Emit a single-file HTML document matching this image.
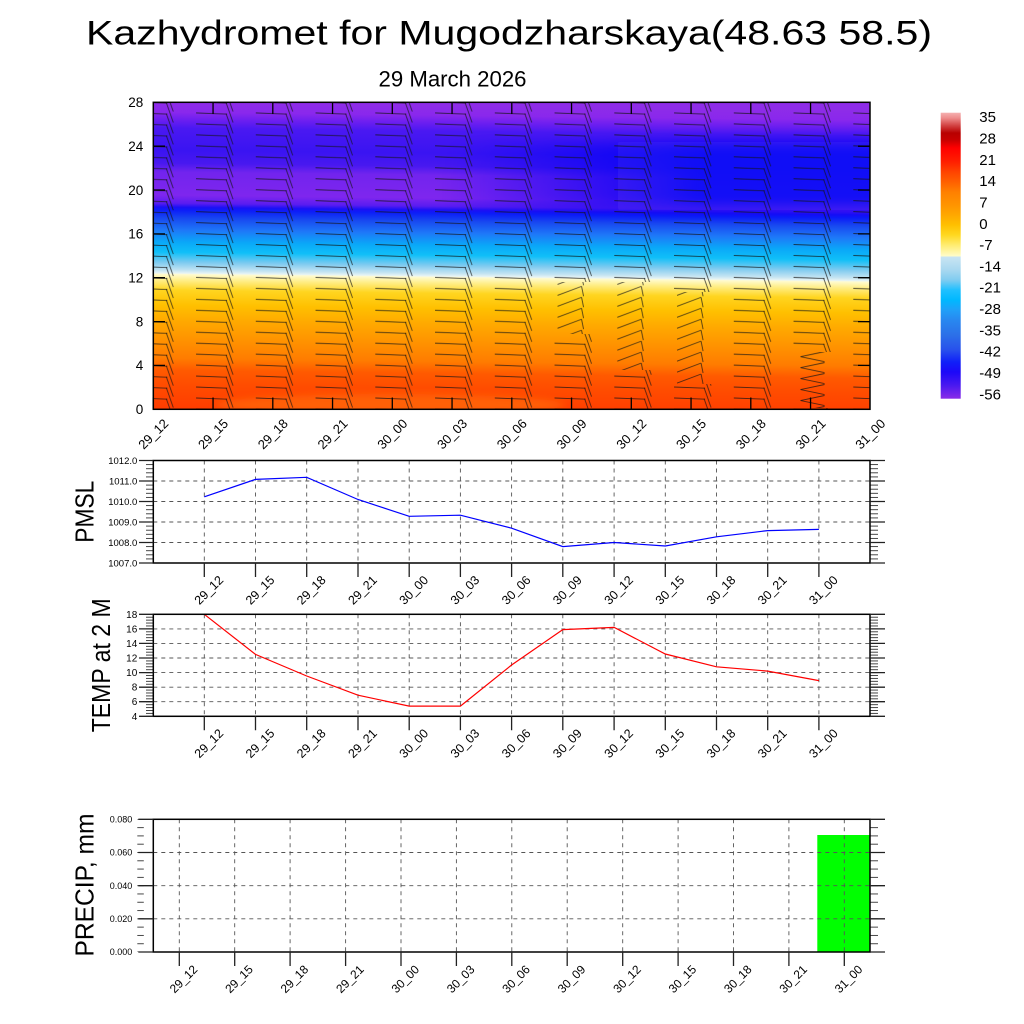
<!DOCTYPE html>
<html><head><meta charset="utf-8">
<style>
html,body{margin:0;padding:0;background:#fff}
svg{display:block}
text{font-family:"Liberation Sans",Arial,sans-serif;fill:#000}
</style></head>
<body>
<svg width="1024" height="1024" viewBox="0 0 1024 1024" xmlns="http://www.w3.org/2000/svg">
<defs>
 <linearGradient id="gF" gradientUnits="userSpaceOnUse" x1="0" y1="102.3" x2="0" y2="409.3" gradientTransform="translate(0,-1.7) skewY(0.64)">
  <stop offset="0" stop-color="#8e2ce8"/>
  <stop offset="0.0316" stop-color="#8a28ec"/>
  <stop offset="0.0577" stop-color="#6a1ef0"/>
  <stop offset="0.0837" stop-color="#4a18f2"/>
  <stop offset="0.1554" stop-color="#3a14f2"/>
  <stop offset="0.1977" stop-color="#4818f0"/>
  <stop offset="0.2270" stop-color="#7224ee"/>
  <stop offset="0.3020" stop-color="#7e26ee"/>
  <stop offset="0.3280" stop-color="#5a1cf0"/>
  <stop offset="0.3410" stop-color="#1a10f5"/>
  <stop offset="0.3508" stop-color="#0c1ef8"/>
  <stop offset="0.3769" stop-color="#1848f0"/>
  <stop offset="0.4160" stop-color="#1e78f8"/>
  <stop offset="0.4550" stop-color="#0aa8f8"/>
  <stop offset="0.4876" stop-color="#10bff8"/>
  <stop offset="0.5202" stop-color="#7ccaf0"/>
  <stop offset="0.5463" stop-color="#c4e4f2"/>
  <stop offset="0.5560" stop-color="#e8f4f4"/>
  <stop offset="0.5593" stop-color="#fffbd0"/>
  <stop offset="0.5788" stop-color="#ffee88"/>
  <stop offset="0.6114" stop-color="#ffd520"/>
  <stop offset="0.6603" stop-color="#ffc000"/>
  <stop offset="0.7091" stop-color="#ffaa00"/>
  <stop offset="0.7743" stop-color="#ff9200"/>
  <stop offset="0.8329" stop-color="#ff7c00"/>
  <stop offset="0.8720" stop-color="#ff5a00"/>
  <stop offset="0.9208" stop-color="#ff4c00"/>
  <stop offset="1" stop-color="#ff3c00"/>
 </linearGradient>
 <linearGradient id="gC" gradientUnits="userSpaceOnUse" x1="0" y1="112.7" x2="0" y2="398.7">
  <stop offset="0" stop-color="#f5b0b0"/>
  <stop offset="0.0185" stop-color="#ee8c8c"/>
  <stop offset="0.043" stop-color="#d44848"/>
  <stop offset="0.071" stop-color="#b80000"/>
  <stop offset="0.0955" stop-color="#c80000"/>
  <stop offset="0.1234" stop-color="#ff0000"/>
  <stop offset="0.1724" stop-color="#ff2000"/>
  <stop offset="0.2073" stop-color="#ff4400"/>
  <stop offset="0.2423" stop-color="#ff6000"/>
  <stop offset="0.2773" stop-color="#ff8000"/>
  <stop offset="0.3227" stop-color="#ff9400"/>
  <stop offset="0.3577" stop-color="#ffa800"/>
  <stop offset="0.3927" stop-color="#ffc000"/>
  <stop offset="0.4276" stop-color="#ffd820"/>
  <stop offset="0.4626" stop-color="#ffec70"/>
  <stop offset="0.5010" stop-color="#fffcc8"/>
  <stop offset="0.5045" stop-color="#c8e4f2"/>
  <stop offset="0.55" stop-color="#a8d8f0"/>
  <stop offset="0.585" stop-color="#80ccf0"/>
  <stop offset="0.6199" stop-color="#20c0ff"/>
  <stop offset="0.6549" stop-color="#00b8ff"/>
  <stop offset="0.6899" stop-color="#20a0f8"/>
  <stop offset="0.7249" stop-color="#2888f0"/>
  <stop offset="0.7773" stop-color="#2c70e8"/>
  <stop offset="0.8298" stop-color="#2850ec"/>
  <stop offset="0.8717" stop-color="#1020f8"/>
  <stop offset="0.9066" stop-color="#1c08f8"/>
  <stop offset="0.9521" stop-color="#4818f0"/>
  <stop offset="1" stop-color="#8a2ce8"/>
 </linearGradient>
 <linearGradient id="gB" gradientUnits="userSpaceOnUse" x1="440" y1="0" x2="700" y2="0">
  <stop offset="0" stop-color="#0a0af6" stop-opacity="0"/>
  <stop offset="1" stop-color="#0a0af6" stop-opacity="0.95"/>
 </linearGradient>
 <filter id="bl5" x="-30%" y="-60%" width="160%" height="220%"><feGaussianBlur stdDeviation="7"/></filter>
 <filter id="bl4" x="-30%" y="-100%" width="160%" height="300%"><feGaussianBlur stdDeviation="4"/></filter>
 <clipPath id="cpF"><rect x="153.3" y="102.3" width="716.7" height="307"/></clipPath>

 <pattern id="pA" patternUnits="userSpaceOnUse" x="133.3" y="395" width="59.75" height="10.964">
  <g stroke="#151515" stroke-width="0.9" fill="none" stroke-opacity="0.75">
   <line x1="3" y1="3" x2="34" y2="4.2"/>
   <line x1="33" y1="3.6" x2="35.6" y2="10.964"/>
   <line x1="35.6" y1="0" x2="39.4" y2="10.964"/>
   <line x1="39.4" y1="0" x2="40" y2="1.6"/>
  </g>
 </pattern>
 <pattern id="pB" patternUnits="userSpaceOnUse" x="133.3" y="395" width="59.75" height="10.964">
  <g stroke="#151515" stroke-width="0.9" fill="none" stroke-opacity="0.75">
   <line x1="6" y1="10" x2="30" y2="1"/>
   <line x1="30" y1="1" x2="32" y2="10.9"/>
  </g>
 </pattern>
 <pattern id="pC" patternUnits="userSpaceOnUse" x="133.3" y="395" width="59.75" height="10.964">
  <g stroke="#151515" stroke-width="0.9" fill="none" stroke-opacity="0.75">
   <line x1="10" y1="5.5" x2="34" y2="0.5"/>
   <line x1="10" y1="5.5" x2="34" y2="10.5"/>
  </g>
 </pattern>
 <mask id="mA" maskUnits="userSpaceOnUse" x="0" y="0" width="1024" height="1024">
  <rect x="0" y="0" width="1024" height="1024" fill="#fff"/>
  <rect x="551" y="282" width="44" height="52" fill="#000"/>
  <rect x="611" y="282" width="44" height="88" fill="#000"/>
  <rect x="671" y="292" width="44" height="92" fill="#000"/>
  <rect x="790" y="352" width="44" height="56" fill="#000"/>
 </mask>

 <pattern id="mtP" patternUnits="userSpaceOnUse" x="0" y="460.05" width="30" height="4.1">
  <rect x="0" y="0" width="30" height="0.9" fill="#333"/>
 </pattern>
 <pattern id="mtT" patternUnits="userSpaceOnUse" x="0" y="613.85" width="30" height="2.914">
  <rect x="0" y="0" width="30" height="0.9" fill="#333"/>
 </pattern>
 <pattern id="mtR" patternUnits="userSpaceOnUse" x="0" y="818.85" width="30" height="8.294">
  <rect x="0" y="0" width="30" height="0.9" fill="#333"/>
 </pattern>
</defs>

<rect x="0" y="0" width="1024" height="1024" fill="#fff"/>

<text x="86" y="44.3" font-size="34" textLength="846" lengthAdjust="spacingAndGlyphs">Kazhydromet for Mugodzharskaya(48.63 58.5)</text>
<text x="378.5" y="86.7" font-size="22" textLength="148" lengthAdjust="spacingAndGlyphs">29 March 2026</text>

<!-- ============ CONTOUR PANEL ============ -->
<g clip-path="url(#cpF)">
 <rect x="153.3" y="102.3" width="716.7" height="307" fill="url(#gF)"/>
 <rect x="440" y="142" width="460" height="68" fill="url(#gB)" filter="url(#bl5)"/>
 <ellipse cx="390" cy="405" rx="175" ry="11" fill="#ff7a10" opacity="0.55" filter="url(#bl4)"/>
 <rect x="150" y="100" width="725" height="312" fill="url(#pA)" mask="url(#mA)"/>
 <rect x="551" y="282" width="44" height="52" fill="url(#pB)"/>
 <rect x="611" y="282" width="44" height="88" fill="url(#pB)"/>
 <rect x="671" y="292" width="44" height="92" fill="url(#pB)"/>
 <rect x="790" y="352" width="44" height="56" fill="url(#pC)"/>
</g>
<rect x="153.3" y="102.3" width="716.7" height="307" fill="none" stroke="#000" stroke-width="1.5"/>
<path stroke="#000" stroke-width="1.3" fill="none" d="
M153.3 409.3V397.5 M213.05 409.3V397.5 M272.8 409.3V397.5 M332.55 409.3V397.5 M392.3 409.3V397.5 M452.05 409.3V397.5 M511.8 409.3V397.5 M571.55 409.3V397.5 M631.3 409.3V397.5 M691.05 409.3V397.5 M750.8 409.3V397.5 M810.55 409.3V397.5
M213.05 102.3V114 M272.8 102.3V114 M332.55 102.3V114 M392.3 102.3V114 M452.05 102.3V114 M511.8 102.3V114 M571.55 102.3V114 M631.3 102.3V114 M691.05 102.3V114 M750.8 102.3V114 M810.55 102.3V114
M153.3 365.4H165 M153.3 321.6H165 M153.3 277.7H165 M153.3 233.9H165 M153.3 190H165 M153.3 146.2H165
M870 365.4H858 M870 321.6H858 M870 277.7H858 M870 233.9H858 M870 190H858 M870 146.2H858"/>
<g font-size="13.5" text-anchor="end">
 <text x="143.3" y="107.1">28</text>
 <text x="143.3" y="151">24</text>
 <text x="143.3" y="194.8">20</text>
 <text x="143.3" y="238.7">16</text>
 <text x="143.3" y="282.5">12</text>
 <text x="143.3" y="326.4">8</text>
 <text x="143.3" y="370.2">4</text>
 <text x="143.3" y="414.1">0</text>
</g>
<g font-size="13" text-anchor="middle">
 <text transform="translate(153.3,434) rotate(-45)" y="4.5">29_12</text>
 <text transform="translate(213.05,434) rotate(-45)" y="4.5">29_15</text>
 <text transform="translate(272.8,434) rotate(-45)" y="4.5">29_18</text>
 <text transform="translate(332.55,434) rotate(-45)" y="4.5">29_21</text>
 <text transform="translate(392.3,434) rotate(-45)" y="4.5">30_00</text>
 <text transform="translate(452.05,434) rotate(-45)" y="4.5">30_03</text>
 <text transform="translate(511.8,434) rotate(-45)" y="4.5">30_06</text>
 <text transform="translate(571.55,434) rotate(-45)" y="4.5">30_09</text>
 <text transform="translate(631.3,434) rotate(-45)" y="4.5">30_12</text>
 <text transform="translate(691.05,434) rotate(-45)" y="4.5">30_15</text>
 <text transform="translate(750.8,434) rotate(-45)" y="4.5">30_18</text>
 <text transform="translate(810.55,434) rotate(-45)" y="4.5">30_21</text>
 <text transform="translate(870.3,434) rotate(-45)" y="4.5">31_00</text>
</g>

<rect x="940.7" y="112.7" width="20" height="286" fill="url(#gC)"/>
<g font-size="15">
 <text x="979.3" y="122.1">35</text>
 <text x="979.3" y="143.4">28</text>
 <text x="979.3" y="164.8">21</text>
 <text x="979.3" y="186.1">14</text>
 <text x="979.3" y="207.4">7</text>
 <text x="979.3" y="228.8">0</text>
 <text x="979.3" y="250.1">-7</text>
 <text x="979.3" y="271.4">-14</text>
 <text x="979.3" y="292.7">-21</text>
 <text x="979.3" y="314.1">-28</text>
 <text x="979.3" y="335.4">-35</text>
 <text x="979.3" y="356.7">-42</text>
 <text x="979.3" y="378.1">-49</text>
 <text x="979.3" y="399.4">-56</text>
</g>

<!-- ============ PMSL PANEL ============ -->
<g stroke="#555" stroke-width="0.9" stroke-dasharray="4 4" fill="none">
 <path d="M204.3 460.5V563 M255.5 460.5V563 M306.7 460.5V563 M358 460.5V563 M409.2 460.5V563 M460.4 460.5V563 M511.6 460.5V563 M562.8 460.5V563 M614.1 460.5V563 M665.3 460.5V563 M716.5 460.5V563 M767.7 460.5V563 M818.9 460.5V563
 M153.3 481H870 M153.3 501.5H870 M153.3 522H870 M153.3 542.5H870"/>
</g>
<polyline fill="none" stroke="#0000ff" stroke-width="1.2" points="204.3,496.8 255.5,479.4 306.7,477.3 358,499.5 409.2,516.3 460.4,515.2 511.6,528.2 562.8,546.6 614.1,542.5 665.3,546 716.5,536.8 767.7,530.6 818.9,529.4"/>
<rect x="146" y="460.5" width="7.3" height="102.5" fill="url(#mtP)"/>
<rect x="870" y="460.5" width="8" height="102.5" fill="url(#mtP)"/>
<rect x="153.3" y="460.5" width="716.7" height="102.5" fill="none" stroke="#000" stroke-width="1.5"/>
<path stroke="#222" stroke-width="1.3" fill="none" d="
M139 460.5H153.3 M139 481H153.3 M139 501.5H153.3 M139 522H153.3 M139 542.5H153.3 M139 563H153.3
M870 460.5H885 M870 481H885 M870 501.5H885 M870 522H885 M870 542.5H885 M870 563H885
M204.3 563V577 M255.5 563V577 M306.7 563V577 M358 563V577 M409.2 563V577 M460.4 563V577 M511.6 563V577 M562.8 563V577 M614.1 563V577 M665.3 563V577 M716.5 563V577 M767.7 563V577 M818.9 563V577"/>
<g font-size="9.5" text-anchor="end">
 <text x="137.3" y="463.9">1012.0</text>
 <text x="137.3" y="484.4">1011.0</text>
 <text x="137.3" y="504.9">1010.0</text>
 <text x="137.3" y="525.4">1009.0</text>
 <text x="137.3" y="545.9">1008.0</text>
 <text x="137.3" y="566.4">1007.0</text>
</g>
<text transform="translate(93.3,511.7) rotate(-90)" text-anchor="middle" font-size="26" textLength="62" lengthAdjust="spacingAndGlyphs">PMSL</text>
<g font-size="12.5" text-anchor="middle">
 <text transform="translate(208.7,590) rotate(-45)" y="4.4">29_12</text>
 <text transform="translate(259.9,590) rotate(-45)" y="4.4">29_15</text>
 <text transform="translate(311.1,590) rotate(-45)" y="4.4">29_18</text>
 <text transform="translate(362.4,590) rotate(-45)" y="4.4">29_21</text>
 <text transform="translate(413.6,590) rotate(-45)" y="4.4">30_00</text>
 <text transform="translate(464.8,590) rotate(-45)" y="4.4">30_03</text>
 <text transform="translate(516,590) rotate(-45)" y="4.4">30_06</text>
 <text transform="translate(567.2,590) rotate(-45)" y="4.4">30_09</text>
 <text transform="translate(618.5,590) rotate(-45)" y="4.4">30_12</text>
 <text transform="translate(669.7,590) rotate(-45)" y="4.4">30_15</text>
 <text transform="translate(720.9,590) rotate(-45)" y="4.4">30_18</text>
 <text transform="translate(772.1,590) rotate(-45)" y="4.4">30_21</text>
 <text transform="translate(823.3,590) rotate(-45)" y="4.4">31_00</text>
</g>

<!-- ============ TEMP PANEL ============ -->
<g stroke="#555" stroke-width="0.9" stroke-dasharray="4 4" fill="none">
 <path d="M204.3 614.3V716.3 M255.5 614.3V716.3 M306.7 614.3V716.3 M358 614.3V716.3 M409.2 614.3V716.3 M460.4 614.3V716.3 M511.6 614.3V716.3 M562.8 614.3V716.3 M614.1 614.3V716.3 M665.3 614.3V716.3 M716.5 614.3V716.3 M767.7 614.3V716.3 M818.9 614.3V716.3
 M153.3 628.9H870 M153.3 643.4H870 M153.3 658H870 M153.3 672.6H870 M153.3 687.2H870 M153.3 701.7H870"/>
</g>
<polyline fill="none" stroke="#ff0000" stroke-width="1.2" points="204.3,614.3 255.5,654.4 306.7,676 358,695.2 409.2,706.1 460.4,706.1 511.6,665 562.8,629.6 614.1,627.4 665.3,654 716.5,666.8 767.7,671.1 818.9,680.6"/>
<rect x="146" y="614.3" width="7.3" height="102" fill="url(#mtT)"/>
<rect x="870" y="614.3" width="8" height="102" fill="url(#mtT)"/>
<rect x="153.3" y="614.3" width="716.7" height="102" fill="none" stroke="#000" stroke-width="1.5"/>
<path stroke="#222" stroke-width="1.3" fill="none" d="
M139 614.3H153.3 M139 628.9H153.3 M139 643.4H153.3 M139 658H153.3 M139 672.6H153.3 M139 687.2H153.3 M139 701.7H153.3 M139 716.3H153.3
M870 614.3H885 M870 628.9H885 M870 643.4H885 M870 658H885 M870 672.6H885 M870 687.2H885 M870 701.7H885 M870 716.3H885
M204.3 716.3V730.3 M255.5 716.3V730.3 M306.7 716.3V730.3 M358 716.3V730.3 M409.2 716.3V730.3 M460.4 716.3V730.3 M511.6 716.3V730.3 M562.8 716.3V730.3 M614.1 716.3V730.3 M665.3 716.3V730.3 M716.5 716.3V730.3 M767.7 716.3V730.3 M818.9 716.3V730.3"/>
<g font-size="10" text-anchor="end">
 <text x="137.3" y="617.8">18</text>
 <text x="137.3" y="632.4">16</text>
 <text x="137.3" y="646.9">14</text>
 <text x="137.3" y="661.5">12</text>
 <text x="137.3" y="676.1">10</text>
 <text x="137.3" y="690.7">8</text>
 <text x="137.3" y="705.2">6</text>
 <text x="137.3" y="719.8">4</text>
</g>
<text transform="translate(110,665.3) rotate(-90)" text-anchor="middle" font-size="25.5" textLength="134" lengthAdjust="spacingAndGlyphs">TEMP at 2 M</text>
<g font-size="12.5" text-anchor="middle">
 <text transform="translate(208.7,743.3) rotate(-45)" y="4.4">29_12</text>
 <text transform="translate(259.9,743.3) rotate(-45)" y="4.4">29_15</text>
 <text transform="translate(311.1,743.3) rotate(-45)" y="4.4">29_18</text>
 <text transform="translate(362.4,743.3) rotate(-45)" y="4.4">29_21</text>
 <text transform="translate(413.6,743.3) rotate(-45)" y="4.4">30_00</text>
 <text transform="translate(464.8,743.3) rotate(-45)" y="4.4">30_03</text>
 <text transform="translate(516,743.3) rotate(-45)" y="4.4">30_06</text>
 <text transform="translate(567.2,743.3) rotate(-45)" y="4.4">30_09</text>
 <text transform="translate(618.5,743.3) rotate(-45)" y="4.4">30_12</text>
 <text transform="translate(669.7,743.3) rotate(-45)" y="4.4">30_15</text>
 <text transform="translate(720.9,743.3) rotate(-45)" y="4.4">30_18</text>
 <text transform="translate(772.1,743.3) rotate(-45)" y="4.4">30_21</text>
 <text transform="translate(823.3,743.3) rotate(-45)" y="4.4">31_00</text>
</g>

<!-- ============ PRECIP PANEL ============ -->
<rect x="817.3" y="835" width="52.7" height="117" fill="#00ff00"/>
<g stroke="#555" stroke-width="0.9" stroke-dasharray="4 4" fill="none">
 <path d="M179.3 819.3V952 M234.7 819.3V952 M290.1 819.3V952 M345.6 819.3V952 M401 819.3V952 M456.4 819.3V952 M511.8 819.3V952 M567.2 819.3V952 M622.7 819.3V952 M678.1 819.3V952 M733.5 819.3V952 M788.9 819.3V952 M844.3 819.3V952
 M153.3 852.5H870 M153.3 885.7H870 M153.3 918.8H870"/>
</g>
<rect x="137.3" y="819.3" width="6.5" height="132.7" fill="url(#mtR)"/>
<rect x="870" y="819.3" width="8" height="132.7" fill="url(#mtR)"/>
<rect x="153.3" y="819.3" width="716.7" height="132.7" fill="none" stroke="#000" stroke-width="1.5"/>
<path stroke="#222" stroke-width="1.3" fill="none" d="
M138.3 819.3H153.3 M138.3 852.5H153.3 M138.3 885.7H153.3 M138.3 918.8H153.3 M138.3 952H153.3
M870 819.3H885 M870 852.5H885 M870 885.7H885 M870 918.8H885 M870 952H885
M179.3 952V966 M234.7 952V966 M290.1 952V966 M345.6 952V966 M401 952V966 M456.4 952V966 M511.8 952V966 M567.2 952V966 M622.7 952V966 M678.1 952V966 M733.5 952V966 M788.9 952V966 M844.3 952V966"/>
<g font-size="9" text-anchor="end">
 <text x="132.3" y="822.5">0.080</text>
 <text x="132.3" y="855.7">0.060</text>
 <text x="132.3" y="888.9">0.040</text>
 <text x="132.3" y="922">0.020</text>
 <text x="132.3" y="955.2">0.000</text>
</g>
<text transform="translate(93.3,885) rotate(-90)" text-anchor="middle" font-size="26" textLength="143" lengthAdjust="spacingAndGlyphs">PRECIP, mm</text>
<g font-size="12" text-anchor="middle">
 <text transform="translate(183.5,979) rotate(-45)" y="4.2">29_12</text>
 <text transform="translate(238.9,979) rotate(-45)" y="4.2">29_15</text>
 <text transform="translate(294.3,979) rotate(-45)" y="4.2">29_18</text>
 <text transform="translate(349.8,979) rotate(-45)" y="4.2">29_21</text>
 <text transform="translate(405.2,979) rotate(-45)" y="4.2">30_00</text>
 <text transform="translate(460.6,979) rotate(-45)" y="4.2">30_03</text>
 <text transform="translate(516,979) rotate(-45)" y="4.2">30_06</text>
 <text transform="translate(571.4,979) rotate(-45)" y="4.2">30_09</text>
 <text transform="translate(626.9,979) rotate(-45)" y="4.2">30_12</text>
 <text transform="translate(682.3,979) rotate(-45)" y="4.2">30_15</text>
 <text transform="translate(737.7,979) rotate(-45)" y="4.2">30_18</text>
 <text transform="translate(793.1,979) rotate(-45)" y="4.2">30_21</text>
 <text transform="translate(848.5,979) rotate(-45)" y="4.2">31_00</text>
</g>
</svg>
</body></html>
